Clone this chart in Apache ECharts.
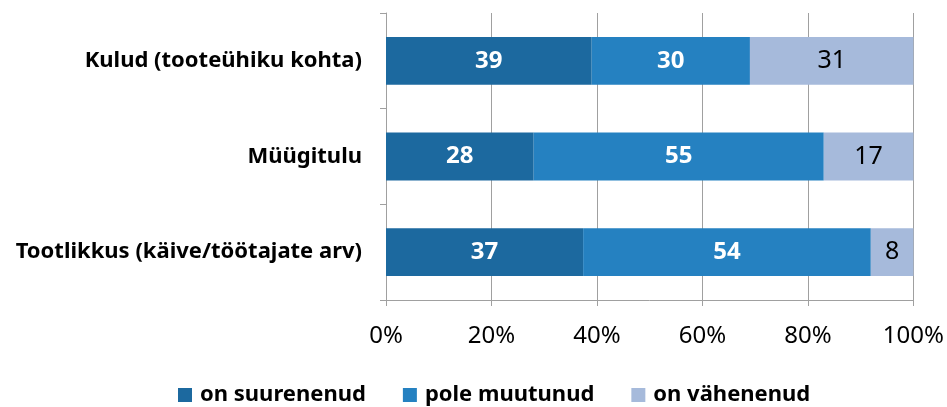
<!DOCTYPE html>
<html>
<head>
<meta charset="utf-8">
<script src="https://cdn.jsdelivr.net/npm/echarts@6/dist/echarts.min.js"></script>
<style>
  html, body { margin: 0; padding: 0; background: #fff; }
  #chart { width: 947px; height: 407px; }
</style>
</head>
<body>
<div id="chart"></div>
<script>
const categories = ['Kulud (tooteühiku kohta)', 'Müügitulu', 'Tootlikkus (käive/töötajate arv)'];
const seriesNames = ['on suurenenud', 'pole muutunud', 'on vähenenud'];
const increased = [39, 28, 37];
const unchanged = [30, 55, 54];
const decreased = [31, 17, 8];
const xTicks = ['0%', '20%', '40%', '60%', '80%', '100%'];

const colors = ['#1c699f', '#2581c1', '#a6badb'];
const labelColors = ['#fff', '#fff', '#000'];
const font = 'Noto Sans';

// row totals so each bar fills 100% (last row sums to 99)
const totals = categories.map((c, i) => increased[i] + unchanged[i] + decreased[i]);

const raw = [increased, unchanged, decreased];
const series = raw.map((vals, s) => ({
  name: seriesNames[s],
  type: 'bar',
  stack: 'total',
  barCategoryGap: '50%',
  itemStyle: { color: colors[s] },
  label: {
    show: true,
    position: 'inside',
    color: labelColors[s],
    fontFamily: font,
    fontSize: s < 2 ? 24 : 25,
    fontWeight: s < 2 ? 'bold' : 'normal',
    formatter: p => vals[p.dataIndex]
  },
  data: vals.map((v, i) => v / totals[i] * 100)
}));

const chart = echarts.init(document.getElementById('chart'));
chart.setOption({
  animation: false,
  grid: { left: 386, right: 31, top: 13, bottom: 107 },
  legend: {
    top: 379,
    left: 173,
    itemWidth: 14,
    itemHeight: 14,
    itemGap: 37,
    icon: 'rect',
    textStyle: { fontFamily: font, fontSize: 22, fontWeight: 'bold', color: '#000', padding: [0, 0, 0, 3] },
    data: seriesNames
  },
  xAxis: {
    type: 'value',
    min: 0,
    max: 100,
    interval: 20,
    axisLine: { show: true, lineStyle: { color: '#a0a0a0', width: 1 } },
    axisTick: { show: true, length: 6, lineStyle: { color: '#a0a0a0' } },
    splitLine: { show: true, lineStyle: { color: '#a0a0a0', width: 1 } },
    axisLabel: {
      margin: 24,
      fontFamily: font,
      fontSize: 24,
      color: '#000',
      formatter: v => xTicks[Math.round(v / 20)]
    }
  },
  yAxis: {
    type: 'category',
    inverse: true,
    data: categories,
    axisLine: { show: true, lineStyle: { color: '#a0a0a0', width: 1 } },
    axisTick: { show: true, length: 6, lineStyle: { color: '#a0a0a0' } },
    axisLabel: {
      margin: 24,
      fontFamily: font,
      fontSize: 22,
      fontWeight: 'bold',
      color: '#000'
    }
  },
  series: series
});
</script>
</body>
</html>
